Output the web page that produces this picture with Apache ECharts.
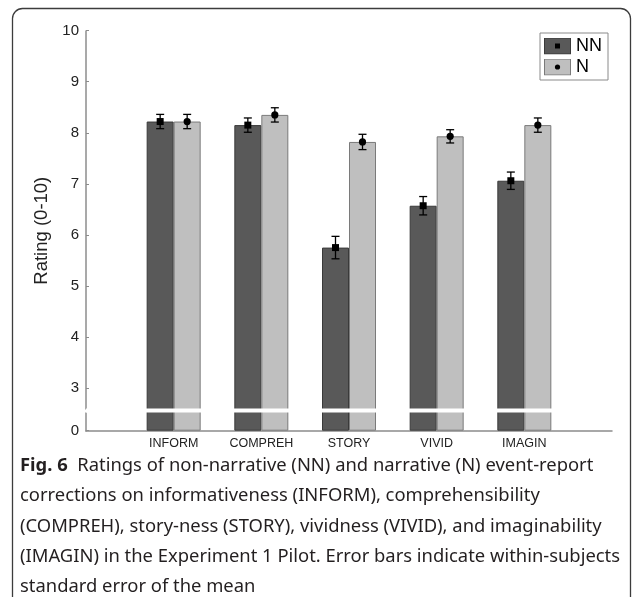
<!DOCTYPE html>
<html>
<head>
<meta charset="utf-8">
<script src="https://cdn.jsdelivr.net/npm/echarts@6/dist/echarts.min.js"></script>
<style>
html,body{margin:0;padding:0;background:#fff;}
#chart{width:632px;height:597px;}
</style>
</head>
<body>
<div id="chart"></div>
<script>
// ---- data ----
var categories = ['INFORM', 'COMPREH', 'STORY', 'VIVID', 'IMAGIN'];
var seriesNames = ['NN', 'N'];
var nnValues = [8.22, 8.15, 5.75, 6.57, 7.06];
var nValues  = [8.22, 8.35, 7.82, 7.93, 8.15];
var nnErrors = [0.14, 0.14, 0.22, 0.18, 0.17];
var nErrors  = [0.14, 0.14, 0.15, 0.13, 0.14];
var yTickLabels = [0, 3, 4, 5, 6, 7, 8, 9, 10];
var yAxisTitle = 'Rating (0-10)';
var captionBold = 'Fig. 6';
var captionLines = [
  'Ratings of non-narrative (NN) and narrative (N) event-report',
  'corrections on informativeness (INFORM), comprehensibility',
  '(COMPREH), story-ness (STORY), vividness (VIVID), and imaginability',
  '(IMAGIN) in the Experiment 1 Pilot. Error bars indicate within-subjects',
  'standard error of the mean'
];

// ---- build ----
var xData = [''].concat(categories, ['']);
function pad(arr) { return ['-'].concat(arr, ['-']); }
function errData(vals, errs) {
  var out = [];
  for (var i = 0; i < vals.length; i++) out.push([i + 1, vals[i], errs[i]]);
  return out;
}
function svgIcon(fill, stroke, marker) {
  var m = marker === 'square'
    ? '<rect x="11" y="6" width="5" height="5" fill="#000"/>'
    : '<circle cx="13.5" cy="8.5" r="2.6" fill="#000"/>';
  var svg = '<svg xmlns="http://www.w3.org/2000/svg" width="27" height="17" viewBox="0 0 27 17">' +
    '<rect x="0.5" y="0.5" width="26" height="16" fill="' + fill + '" stroke="' + stroke + '" stroke-width="1"/>' + m + '</svg>';
  return 'image://data:image/svg+xml;charset=utf-8,' + encodeURIComponent(svg);
}
var BAR_W = 27;
function errRender(offsetSign, marker) {
  return function (params, api) {
    var x = api.value(0), v = api.value(1), e = api.value(2);
    var top = api.coord([x, v + e]);
    var bot = api.coord([x, v - e]);
    var mid = api.coord([x, v]);
    var cx = mid[0] + offsetSign * BAR_W / 2;
    var style = { stroke: '#000', lineWidth: 1.3 };
    var children = [
      { type: 'line', shape: { x1: cx, y1: top[1], x2: cx, y2: bot[1] }, style: style },
      { type: 'line', shape: { x1: cx - 4, y1: top[1], x2: cx + 4, y2: top[1] }, style: style },
      { type: 'line', shape: { x1: cx - 4, y1: bot[1], x2: cx + 4, y2: bot[1] }, style: style }
    ];
    if (marker === 'square') {
      children.push({ type: 'rect', shape: { x: cx - 3.5, y: mid[1] - 3.5, width: 7, height: 7 }, style: { fill: '#000' } });
    } else {
      children.push({ type: 'circle', shape: { cx: cx, cy: mid[1], r: 3.6 }, style: { fill: '#000' } });
    }
    return { type: 'group', children: children };
  };
}

var CAP_FONT = 18.4;
var captionGraphics = [];
var capY0 = 469, capDY = 30.2;
captionGraphics.push({
  type: 'text', left: 20, top: capY0 - 12,
  style: {
    text: '{b|' + captionBold + '}  ' + captionLines[0],
    rich: { b: { fontWeight: 'bold', fontFamily: 'Noto Sans', fontSize: CAP_FONT, fill: '#231f20' } },
    fontFamily: 'Noto Sans', fontSize: CAP_FONT, fill: '#231f20'
  }
});
for (var i = 1; i < captionLines.length; i++) {
  captionGraphics.push({
    type: 'text', left: 20, top: capY0 - 12 + i * capDY,
    style: { text: captionLines[i], fontFamily: 'Noto Sans', fontSize: CAP_FONT, fill: '#231f20' }
  });
}
captionGraphics.push({
  type: 'rect', shape: { x: 12.5, y: 8.5, width: 618, height: 600, r: 10 },
  style: { fill: 'none', stroke: '#3c3c3c', lineWidth: 1.3 }, silent: true
});

var chart = echarts.init(document.getElementById('chart'), null, { renderer: 'canvas' });
chart.setOption({
  animation: false,
  backgroundColor: '#fff',
  textStyle: { fontFamily: 'Liberation Sans' },
  grid: { left: 86, right: 20, top: 30.7, bottom: 166.3, containLabel: false },
  legend: {
    orient: 'vertical', right: 24, top: 33,
    padding: [4, 6, 4, 4], itemGap: 3, itemWidth: 27, itemHeight: 17,
    borderColor: '#8a8a8a', borderWidth: 1, backgroundColor: '#fff',
    textStyle: { fontSize: 18, color: '#000', fontFamily: 'Liberation Sans' },
    data: [
      { name: seriesNames[0], icon: svgIcon('#595959', '#3a3a3a', 'square') },
      { name: seriesNames[1], icon: svgIcon('#bfbfbf', '#7a7a7a', 'circle') }
    ]
  },
  xAxis: {
    type: 'category', data: xData, boundaryGap: false,
    axisLine: { lineStyle: { color: '#8c8c8c', width: 1.5 } },
    axisTick: { show: false },
    axisLabel: { fontSize: 12.5, color: '#222', margin: 6, interval: 0 },
    splitLine: { show: false }
  },
  yAxis: {
    type: 'value', min: 0, max: 10, interval: 1,
    name: yAxisTitle, nameLocation: 'middle', nameGap: 29,
    nameTextStyle: { fontSize: 18.5, color: '#222' },
    axisLine: { show: true, lineStyle: { color: '#8c8c8c', width: 1.5 } },
    axisTick: { show: true, inside: true, length: 3, customValues: yTickLabels, lineStyle: { color: '#8c8c8c' } },
    axisLabel: {
      fontSize: 15, color: '#222', margin: 7, hideOverlap: false,
      customValues: yTickLabels,
      formatter: function (v) { return String(Math.round(v)); }
    },
    splitLine: { show: false },
    breaks: [{ start: 0.36, end: 2.6, gap: '1%' }],
    breakArea: {
      show: true, expandOnClick: false, zigzagAmplitude: 0, zigzagZ: 100,
      itemStyle: { color: '#fff', borderColor: '#fff', borderWidth: 0, opacity: 1 }
    }
  },
  series: [
    { name: seriesNames[0], type: 'bar', data: pad(nnValues), barWidth: BAR_W, barGap: '0%',
      itemStyle: { color: '#595959', borderColor: '#3a3a3a', borderWidth: 1 } },
    { name: seriesNames[1], type: 'bar', data: pad(nValues), barWidth: BAR_W, barGap: '0%',
      itemStyle: { color: '#bfbfbf', borderColor: '#7a7a7a', borderWidth: 1 } },
    { name: seriesNames[0] + ' err', type: 'custom', data: errData(nnValues, nnErrors), renderItem: errRender(-1, 'square'), z: 5, silent: true },
    { name: seriesNames[1] + ' err', type: 'custom', data: errData(nValues, nErrors), renderItem: errRender(1, 'circle'), z: 5, silent: true }
  ],
  graphic: captionGraphics
});
</script>
</body>
</html>
